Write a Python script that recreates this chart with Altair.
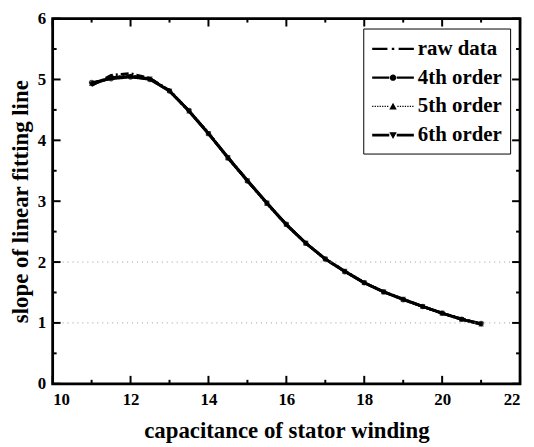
import altair as alt
import pandas as pd

# ---------------- data ----------------
x_vals = [11.0, 11.5, 12.0, 12.5, 13.0, 13.5, 14.0, 14.5, 15.0, 15.5, 16.0,
          16.5, 17.0, 17.5, 18.0, 18.5, 19.0, 19.5, 20.0, 20.5, 21.0]
raw_data = [4.90, 5.07, 5.10, 5.02, 4.82, 4.48, 4.12, 3.72, 3.34, 2.97, 2.62,
            2.31, 2.05, 1.85, 1.66, 1.51, 1.39, 1.27, 1.16, 1.07, 0.98]
order4 = [4.95, 5.01, 5.04, 5.00, 4.81, 4.49, 4.11, 3.71, 3.33, 2.97, 2.62,
          2.31, 2.05, 1.84, 1.66, 1.51, 1.38, 1.27, 1.16, 1.06, 0.99]
order5 = [4.93, 5.03, 5.06, 5.01, 4.82, 4.48, 4.12, 3.71, 3.34, 2.96, 2.62,
          2.31, 2.05, 1.85, 1.66, 1.51, 1.39, 1.27, 1.16, 1.06, 0.98]
order6 = [4.92, 5.03, 5.05, 5.01, 4.81, 4.48, 4.11, 3.72, 3.34, 2.97, 2.61,
          2.31, 2.05, 1.85, 1.66, 1.51, 1.39, 1.27, 1.16, 1.06, 0.98]
series_names = ["raw data", "4th order", "5th order", "6th order"]

x_major = [10, 12, 14, 16, 18, 20, 22]
x_minor = [11, 13, 15, 17, 19, 21]
y_major = [0, 1, 2, 3, 4, 5, 6]
y_minor = [0.5, 1.5, 2.5, 3.5, 4.5, 5.5]
grid_values = [1, 2]

rows = []
for name, vals in zip(series_names, [raw_data, order4, order5, order6]):
    for xv, yv in zip(x_vals, vals):
        rows.append({"x": xv, "y": yv, "series": name})
df = pd.DataFrame(rows)

FONT = "Liberation Serif"
xs = alt.Scale(domain=[10, 22], nice=False, zero=False)
ys = alt.Scale(domain=[0, 6], nice=False, zero=False)

base = alt.Chart(df)

# main lines + the (shared) axes: labels and titles only
lines = base.mark_line(color="black").encode(
    x=alt.X("x:Q", scale=xs, axis=alt.Axis(
        orient="bottom", values=x_major, format="d", ticks=False, domain=False,
        grid=False, labelPadding=8, title="capacitance of stator winding",
        titlePadding=12)),
    y=alt.Y("y:Q", scale=ys, axis=alt.Axis(
        orient="left", values=y_major, format="d", ticks=False, domain=False,
        grid=False, labelPadding=7, title="slope of linear fitting line",
        titlePadding=5)),
    detail="series:N",
    strokeDash=alt.StrokeDash("series:N", legend=None, scale=alt.Scale(
        domain=series_names, range=[[8, 3, 2, 3], [1, 0], [2, 2], [1, 0]])),
    strokeWidth=alt.StrokeWidth("series:N", legend=None, scale=alt.Scale(
        domain=series_names, range=[2.5, 3, 1.5, 3.5])),
)

points = base.transform_filter(
    alt.datum.series != "raw data"
).mark_point(filled=True, color="black", size=30).encode(
    x=alt.X("x:Q", scale=xs),
    y=alt.Y("y:Q", scale=ys),
    shape=alt.Shape("series:N", legend=None, scale=alt.Scale(
        domain=["4th order", "5th order", "6th order"],
        range=["circle", "triangle-up", "triangle-down"])),
)

# legend symbols (filled paths): line segments + marker, drawn in unit space
def seg(a, b, h):
    return f"M{a},{-h}H{b}V{h}H{a}Z"

L0, L1, MC = -0.92, 2.44, 0.76
circ = (f"M{MC-0.26},0A0.26,0.26 0 1,0 {MC+0.26},0"
        f"A0.26,0.26 0 1,0 {MC-0.26},0Z")
tri_up = f"M{MC},-0.3L{MC+0.3},0.24L{MC-0.3},0.24Z"
tri_dn = f"M{MC},0.3L{MC+0.3},-0.24L{MC-0.3},-0.24Z"
p_raw = seg(L0, MC - 0.45, 0.09) + seg(MC - 0.1, MC + 0.1, 0.09) + seg(MC + 0.45, L1, 0.09)
p_4 = seg(L0, MC - 0.3, 0.09) + seg(MC + 0.3, L1, 0.09) + circ
dots = ""
xx = L0
while xx < MC - 0.35:
    dots += seg(round(xx, 3), round(xx + 0.1, 3), 0.05)
    xx += 0.2
xx = MC + 0.35
while xx < L1 - 0.05:
    dots += seg(round(xx, 3), round(xx + 0.1, 3), 0.05)
    xx += 0.2
p_5 = dots + tri_up
p_6 = seg(L0, MC - 0.3, 0.11) + seg(MC + 0.3, L1, 0.11) + tri_dn

legend_layer = base.transform_filter("false").mark_point(
    filled=True, color="black", opacity=1
).encode(
    x=alt.X("x:Q", scale=xs),
    y=alt.Y("y:Q", scale=ys),
    shape=alt.Shape("series:N", scale=alt.Scale(
        domain=series_names, range=[p_raw, p_4, p_5, p_6]),
        legend=alt.Legend(
            title=None, orient="top-right", offset=10, padding=8,
            strokeColor="black", fillColor="white",
            symbolSize=625, symbolStrokeWidth=0,
            symbolFillColor="black", symbolOffset=0, labelOffset=22,
            labelFont=FONT, labelFontSize=21, labelFontWeight="bold",
            labelColor="black", rowPadding=6)),
)


# inward ticks as rules; tick lengths given in data units along the frame
def xrules(values, at, at2):
    return alt.Chart(pd.DataFrame({"v": values})).transform_calculate(
        at=str(at), at2=str(at2)
    ).mark_rule(color="black", strokeWidth=2).encode(
        x=alt.X("v:Q", scale=xs),
        y=alt.Y("at:Q", scale=ys),
        y2="at2:Q",
    )


def yrules(values, at, at2):
    return alt.Chart(pd.DataFrame({"v": values})).transform_calculate(
        at=str(at), at2=str(at2)
    ).mark_rule(color="black", strokeWidth=2).encode(
        y=alt.Y("v:Q", scale=ys),
        x=alt.X("at:Q", scale=xs),
        x2="at2:Q",
    )


grid_layer = alt.Chart(pd.DataFrame({"g": grid_values})).mark_rule(
    color="#999999", strokeDash=[1, 4], strokeWidth=1
).encode(y=alt.Y("g:Q", scale=ys))

layers = [
    lines,
    grid_layer,
    points,
    xrules(x_major, 0, 0.13),
    xrules(x_minor, 0, 0.065),
    xrules(x_major, 6, 5.87),
    xrules(x_minor, 6, 5.935),
    yrules(y_major, 10, 10.204),
    yrules(y_minor, 10, 10.102),
    yrules(y_major, 22, 21.796),
    yrules(y_minor, 22, 21.898),
    legend_layer,
]

chart = alt.layer(*layers).resolve_scale(
    shape="independent"
).properties(
    width=471, height=368,
    padding={"left": 1, "top": 0, "right": 5, "bottom": 0}
).configure_view(
    stroke="black", strokeWidth=2.8
).configure_axis(
    labelFont=FONT, labelFontSize=17, labelFontWeight="bold", labelColor="black",
    titleFont=FONT, titleFontSize=23, titleFontWeight="bold", titleColor="black",
)

chart.save("out.html", embed_options={"renderer": "svg", "actions": False})
